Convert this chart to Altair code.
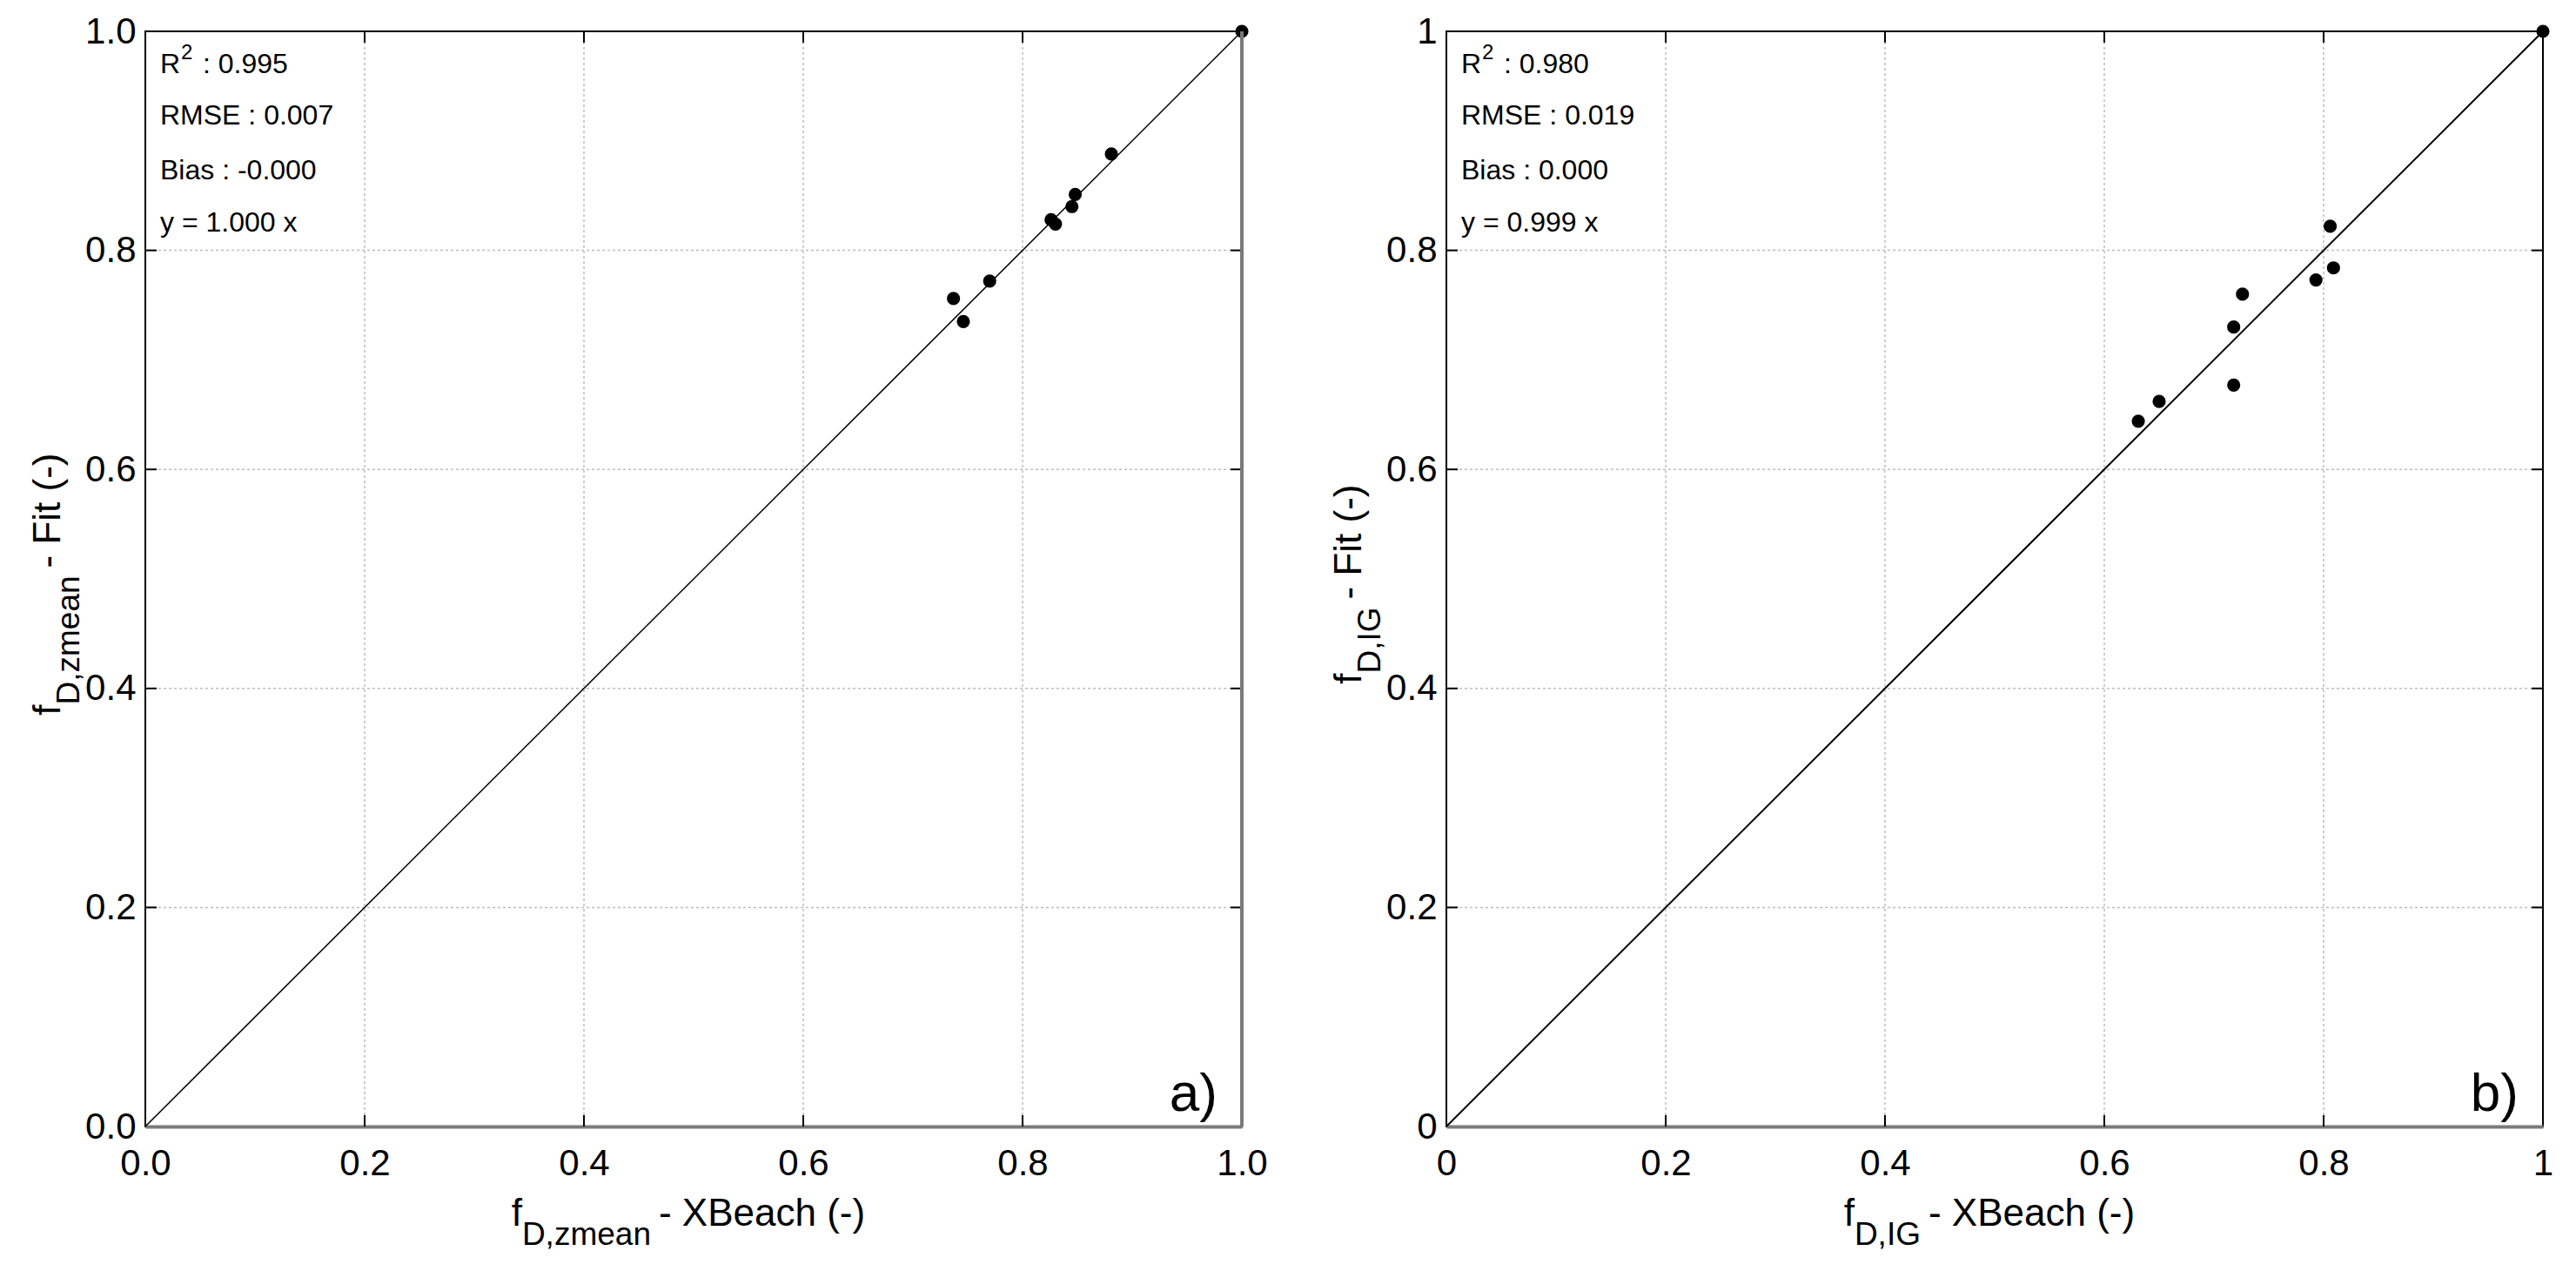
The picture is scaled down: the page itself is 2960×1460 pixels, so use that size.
import altair as alt
import pandas as pd

# ---------------- data ----------------
tick_values = [0.0, 0.2, 0.4, 0.6, 0.8, 1.0]
inner_ticks = [0.2, 0.4, 0.6, 0.8]
diag = [0.0, 1.0]

a_x = [0.737, 0.746, 0.770, 0.826, 0.830, 0.845, 0.848, 0.881, 1.000]
a_y = [0.756, 0.735, 0.772, 0.828, 0.824, 0.840, 0.851, 0.888, 1.000]

b_x = [0.631, 0.650, 0.718, 0.718, 0.726, 0.793, 0.806, 0.809, 1.000]
b_y = [0.644, 0.662, 0.677, 0.730, 0.760, 0.773, 0.822, 0.784, 1.000]

a_stats = ["0.995", "0.007", "-0.000", "1.000"]
b_stats = ["0.980", "0.019", "0.000", "0.999"]

a_sub = "D,zmean"
b_sub = "D,IG"

# ---------------- style ----------------
W, H = 1260, 1258
FONT = "Liberation Sans"
LABEL_SIZE = 42
TITLE_SIZE = 44
SUB_SIZE = 37
STAT_SIZE = 32
GAP = 9
one = pd.DataFrame({"k": [0]})


def txt(s, x, y, size, align="left", angle=0):
    return alt.Chart(one).mark_text(
        text=s, align=align, baseline="alphabetic", font=FONT,
        fontSize=size, color="black", angle=angle
    ).encode(x=alt.value(x), y=alt.value(y))


def text_width(s, size):
    # approximate Arial advance widths (em units)
    w = {"f": .278, "D": .722, ",": .278, "z": .5, "m": .833, "e": .556,
         "a": .556, "n": .556, "I": .278, "G": .778, " ": .278, "-": .333,
         "X": .667, "B": .667, "c": .5, "h": .556, "(": .333, ")": .333,
         "F": .611, "i": .222, "t": .278}
    return sum(w.get(ch, .556) for ch in s) * size


def panel(xs, ys, fmt, stats, sub, letter, anchor=False, gray_right=False,
          line_w=1.5, ytitle_x=-98):
    sx = alt.Scale(domain=[0, 1], nice=False, zero=False)
    sy = alt.Scale(domain=[0, 1], nice=False, zero=False)
    xax = alt.Axis(values=tick_values, format=fmt, title=None, grid=False,
                   ticks=False, tickSize=0, labelFont=FONT,
                   labelFontSize=LABEL_SIZE, labelColor="black",
                   labelPadding=22, labelFlush=False, labelOverlap=False,
                   domain=True, domainColor="#7a7a7a", domainWidth=4)
    yax = alt.Axis(values=tick_values, format=fmt, title=None, grid=False,
                   ticks=False, tickSize=0, labelFont=FONT,
                   labelFontSize=LABEL_SIZE, labelColor="black",
                   labelPadding=11, labelFlush=False, labelOverlap=False,
                   domain=False)
    X = lambda f: alt.X(f, scale=sx, axis=xax)
    Y = lambda f: alt.Y(f, scale=sy, axis=yax)

    tdf = pd.DataFrame({"t": inner_ticks})
    grid_style = dict(color="#bdbdbd", strokeWidth=1.5, strokeDash=[3, 3])
    layers = [
        alt.Chart(tdf).mark_rule(**grid_style).encode(x=X("t:Q")),
        alt.Chart(tdf).mark_rule(**grid_style).encode(y=Y("t:Q")),
        alt.Chart(pd.DataFrame({"v": diag})).mark_line(
            color="black", strokeWidth=line_w).encode(x=X("v:Q"), y=Y("v:Q")),
        alt.Chart(pd.DataFrame({"x": xs, "y": ys})).mark_circle(
            size=230, color="black", opacity=1).encode(x=X("x:Q"), y=Y("y:Q")),
        # inward ticks on four sides
        alt.Chart(tdf).mark_rule(color="black", strokeWidth=2).encode(
            x=X("t:Q"), y=alt.value(H), y2=alt.value(H - 13)),
        alt.Chart(tdf).mark_rule(color="black", strokeWidth=2).encode(
            x=X("t:Q"), y=alt.value(0), y2=alt.value(13)),
        alt.Chart(tdf).mark_rule(color="black", strokeWidth=2).encode(
            y=Y("t:Q"), x=alt.value(0), x2=alt.value(13)),
        alt.Chart(tdf).mark_rule(color="black", strokeWidth=2).encode(
            y=Y("t:Q"), x=alt.value(W), x2=alt.value(W - 13)),
    ]
    if gray_right:
        layers.append(alt.Chart(one).mark_rule(color="#7a7a7a", strokeWidth=4).encode(
            x=alt.value(W), y=alt.value(0), y2=alt.value(H)))
    if anchor:
        layers.append(alt.Chart(one).mark_rule(color="white", opacity=0, strokeWidth=1).encode(
            x=alt.value(-158), x2=alt.value(-157), y=alt.value(-27), y2=alt.value(-26)))

    # statistics box
    layers += [
        txt("R", 17, 48, STAT_SIZE),
        txt("2", 41, 32, 24),
        txt(": " + stats[0], 66, 48, STAT_SIZE),
        txt("RMSE : " + stats[1], 17, 107, STAT_SIZE),
        txt("Bias : " + stats[2], 17, 170, STAT_SIZE),
        txt("y = " + stats[3] + " x", 17, 230, STAT_SIZE),
        txt(letter, 1232, 1240, 62, align="right"),
    ]

    # x title: f_{sub} - XBeach (-)
    main_x = " - XBeach (-)"
    wf = text_width("f", TITLE_SIZE)
    ws = text_width(sub, SUB_SIZE) + GAP
    wm = text_width(main_x, TITLE_SIZE)
    x0 = W / 2 - (wf + ws + wm) / 2
    layers += [
        txt("f", x0, H + 114, TITLE_SIZE),
        txt(sub, x0 + wf, H + 136, SUB_SIZE),
        txt(main_x, x0 + wf + ws, H + 114, TITLE_SIZE),
    ]
    # y title: f_{sub} - Fit (-)  (rotated)
    main_y = " - Fit (-)"
    wm2 = text_width(main_y, TITLE_SIZE)
    y0 = H / 2 + (wf + ws + wm2) / 2
    layers += [
        txt("f", ytitle_x, y0, TITLE_SIZE, angle=270),
        txt(sub, ytitle_x + 22, y0 - wf, SUB_SIZE, angle=270),
        txt(main_y, ytitle_x, y0 - wf - ws, TITLE_SIZE, angle=270),
    ]
    return alt.layer(*layers).properties(width=W, height=H)


left = panel(a_x, a_y, ".1f", a_stats, a_sub, "a)", anchor=True,
             gray_right=True, line_w=1.5)
right = panel(b_x, b_y, ".1~f", b_stats, b_sub, "b)", line_w=2)

chart = alt.hconcat(left, right, spacing=235, bounds="flush", padding=0).configure_view(
    stroke="black", strokeWidth=2
)

chart.save("out.html", embed_options={"renderer": "svg", "actions": False})
